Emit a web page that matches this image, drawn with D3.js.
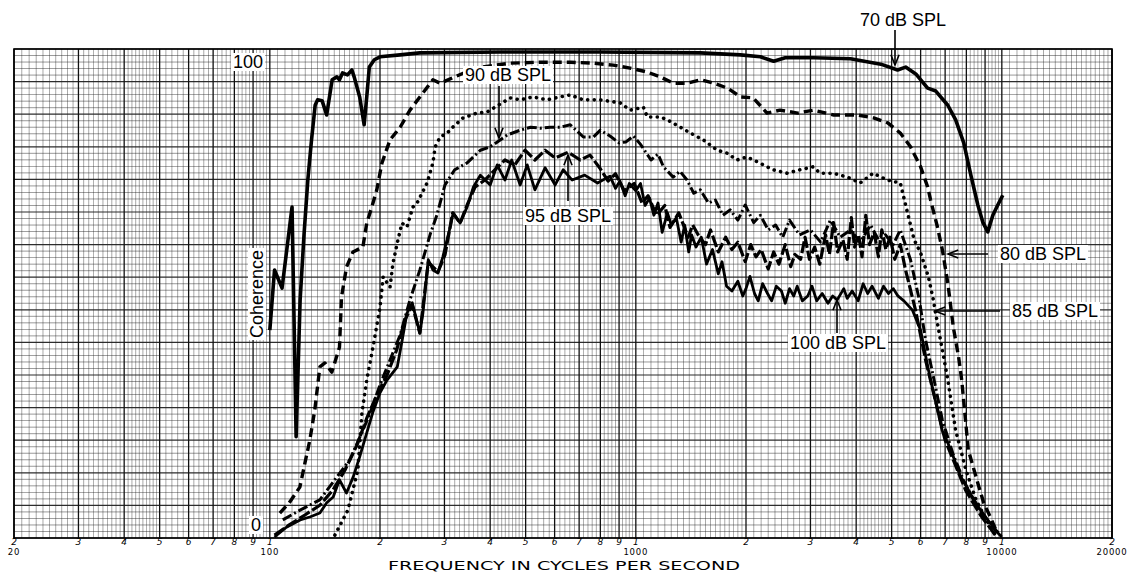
<!DOCTYPE html>
<html><head><meta charset="utf-8">
<script src="https://cdn.jsdelivr.net/npm/d3@7"></script>
<style>body{margin:0;background:#fff}svg{display:block}</style>
</head><body>
<svg id="chart" width="1134" height="573"></svg>
<script>
// Coherence (%) versus frequency (Hz) at six stimulus levels
const spl70 = [[100,42.5],[103,54.8],[108,51.1],[115,67.7],[118,20.7],[121,48.7],[124,62],[127,73.2],[130,81.4],[133,88.5],[135,89.6],[139,89.4],[143,86.5],[148,93.7],[152.5,94.3],[155,93.7],[158,95.1],[163,94.7],[167.6,95.7],[170,94.3],[176,90.2],[181,84.5],[184,90.2],[187,96.3],[193,97.8],[200,98.4],[227,98.8],[257,99.2],[426,99.4],[800,99.4],[1500,99.2],[1930,98.8],[2190,98.4],[2380,97.5],[2560,98.2],[3060,98.2],[3860,98],[4670,96.9],[5190,95.7],[5460,96.3],[5820,94.9],[6270,92],[6600,91.4],[7120,88.5],[7480,85.5],[7870,80.8],[8230,74.2],[8600,68.1],[8870,64.6],[9155,62.6],[9450,66],[9750,68.1],[10060,70.1]];

const spl80 = [[106.5,5.1],[113,7.2],[120.8,10.4],[124.7,15.3],[128.6,20],[132.7,26.2],[137,35],[141.4,35.8],[147.7,33.9],[155,39],[157,49.3],[162,55.4],[168.7,58.5],[179.6,59.5],[184,64.4],[190,67.7],[196,71.2],[202.5,76.7],[213,81.4],[227,84],[241.5,87.5],[257,90.2],[279,93.7],[292,93],[364,96.1],[454,97.1],[549,97.3],[663,97.3],[766,97.1],[867,96.7],[965,96.1],[1073,95.3],[1165,94.3],[1266,93],[1385,93],[1505,93.7],[1633,93],[1780,92],[1933,90.2],[2093,90],[2282,86.9],[2477,87.5],[2768,86.9],[3060,87.5],[3475,86.5],[4036,86.5],[4463,85.9],[4879,84.9],[5280,82.8],[5630,80],[6000,75.9],[6270,71.8],[6390,69.1],[6670,63.6],[6880,58.9],[7120,52.1],[7370,43.1],[7620,37],[7770,32.3],[8100,18],[8600,11.2],[8920,7.2],[9300,4.3],[9720,1]];

const spl85 = [[150.6,0.6],[163.4,5.7],[174,13.9],[178.5,25.6],[184,32.3],[191.3,39],[200,47.2],[204,53.4],[213,51.3],[217,56.2],[224,61],[229.7,64.4],[237,63.6],[246,67.7],[252.5,68.5],[269,72.6],[279,76.7],[283,80],[292,82],[305,82.8],[316,84],[337,85.9],[368,86.9],[392,87.1],[454,90],[483,89.6],[524,90.2],[572,89.6],[621,90.2],[662,90.6],[719,89.6],[800,89.6],[906,89],[965,87.5],[1049,88.1],[1075,86.1],[1167,86.1],[1220,85.5],[1324,84],[1410,82.8],[1530,81.4],[1670,79.3],[1775,78.7],[1890,77.3],[2010,77.9],[2180,76.7],[2370,75.3],[2590,74.6],[2810,75.3],[3050,75.9],[3190,74.6],[3470,74.6],[3780,73.8],[4100,72.6],[4450,74.6],[4860,73.2],[5280,72.6],[5500,67.1],[5760,61],[6000,58.3],[6300,53.4],[6500,48.7],[6700,43.1],[6880,38.4],[7120,32.3],[7480,22],[7980,13.9],[8500,7.8],[9070,3.7],[9600,0.6]];

const spl90 = [[108.5,3.7],[121,5.7],[137,7.8],[152.5,12.5],[165.5,16],[179.5,22],[188,25.6],[200,31.3],[213,36.4],[227,41.5],[241.5,48.7],[257,54.8],[274,62],[286,66],[301,72.2],[320,75.3],[346,76.7],[376,79.3],[400,80],[426,81.4],[445,82.4],[483,83.4],[516,84],[549,83.8],[583,84],[621,84],[662,84.5],[719,82],[766,82],[800,83.4],[850,82.2],[900,80.8],[940,81],[985,82.2],[1030,80.5],[1100,77.3],[1150,78.5],[1190,75.9],[1265,73.8],[1320,75],[1380,73.2],[1440,70.5],[1500,71.2],[1580,68.5],[1650,69.1],[1730,66],[1810,67.1],[1900,65],[1990,68.1],[2100,64.5],[2190,66],[2300,63],[2410,64],[2520,61.5],[2630,65],[2800,62],[3000,63],[3200,60.5],[3400,65],[3620,61.5],[3860,63],[4100,60.5],[4380,64],[4600,61],[4810,62],[5050,60],[5280,63],[5630,56.9],[5950,48.7],[6190,40.5],[6530,32.3],[6880,24.1],[7370,17],[7850,11.9],[8500,6.7],[9300,2.7],[9950,0.6]];

const spl95 = [[103,0.6],[113,2.7],[124.7,4.7],[137,6.7],[148.7,9.8],[160.5,13.9],[173,19],[184,24.5],[196,29.2],[209,33.3],[222,38.4],[234,44.6],[245,47.6],[257,41.9],[271,56.4],[288,54.4],[301,57.9],[316,66.5],[331,64.4],[346,68.1],[364,71.8],[387,73.2],[412,75.3],[439,77.3],[467,76.3],[498,79.3],[530,77.3],[565,79.3],[602,77.7],[653,78.9],[705,77.3],[750,78.3],[800,75.5],[840,73],[880,74.5],[930,71],[990,72.5],[1040,68.5],[1080,70],[1140,66],[1200,68],[1240,63.5],[1310,66.5],[1390,61.5],[1430,64],[1480,62],[1550,60],[1600,63],[1680,58.5],[1760,61.5],[1830,59],[1900,60.5],[1990,56.5],[2060,60],[2130,57.5],[2200,59],[2300,55],[2380,58.5],[2460,56],[2560,60],[2650,55.5],[2720,58],[2820,57],[2900,61.5],[2980,57],[3080,59.5],[3180,56],[3300,62],[3380,58],[3470,64.5],[3560,58.5],[3680,61],[3780,57],[3880,65.5],[3960,59.5],[4060,62],[4150,57.5],[4250,66],[4350,60],[4480,62.5],[4600,57.5],[4700,63],[4820,59],[4950,61.5],[5100,57],[5280,60],[5450,55],[5810,46.6],[6190,36.4],[6580,28.2],[7000,20],[7470,14.9],[7960,9.8],[8740,4.7],[9600,0.6]];

const spl100 = [[103,0.2],[111,2.2],[121,3.7],[128.6,4.3],[137,5.1],[143,7.2],[149,8.4],[155,11.9],[162,9.2],[169,12.5],[176,16.6],[184,21.5],[191,25.6],[200,29.7],[209,32.3],[223,35],[230,40.5],[237,46],[245,48.1],[257,41.9],[262,46],[271,56.9],[279,54.8],[288,54.2],[297,57.5],[311,63.6],[317,66.5],[331,64.4],[346,67.7],[360,71.8],[376,74.2],[400,72.2],[418,76.3],[439,73.2],[458,77.3],[483,72.2],[505,76.3],[530,71.2],[565,75.7],[602,72.2],[633,75.3],[670,73.2],[725,74.2],[786,72.6],[850,74],[880,71.5],[905,73],[935,70],[960,72.5],[1000,71],[1030,72.5],[1060,68],[1090,69.5],[1120,66],[1150,68.5],[1180,62.5],[1220,66.5],[1250,64],[1290,65.5],[1330,60.5],[1360,64],[1395,58.5],[1420,62],[1460,59.5],[1510,61.5],[1560,56],[1620,59],[1680,54],[1720,56.5],[1770,51.5],[1830,50.5],[1900,52.5],[1960,49.5],[2000,51],[2050,53.5],[2110,50],[2160,48.5],[2220,52],[2290,50],[2350,48.5],[2420,51.5],[2500,50.5],[2560,48],[2630,51],[2700,49.5],[2760,51.5],[2850,48.5],[2950,49.5],[3030,51.5],[3120,48.5],[3230,50],[3350,48],[3450,49.5],[3550,48.7],[3700,51],[3780,49],[3900,50.5],[4050,48.5],[4180,52],[4300,50],[4420,51.5],[4600,49],[4750,51.5],[4900,50],[5050,51],[5200,49.5],[5400,48.5],[5700,46.6],[6000,42.5],[6300,34.4],[6580,28.2],[6870,22],[7260,18],[7680,12.9],[8250,8.8],[8750,5.7],[9600,1.6],[10000,0.2]];

// Axis labelling
const digitTicks = [20,30,40,50,60,70,80,90,100,200,300,400,500,600,700,800,900,1000,2000,3000,4000,5000,6000,7000,8000,9000,10000,20000];
const decadeTicks = [20,100,1000,10000,20000];
const xTitle = "FREQUENCY IN CYCLES PER SECOND";
const yTitle = "Coherence";
const yTickLabels = [[0,"0"],[100,"100"]];

const svg = d3.select("#chart");
const x = d3.scaleLog().domain([20,20000]).range([14,1112]);
const y = d3.scaleLinear().domain([0,100]).range([538,49]);

// ---- semi-log graph paper ----
const paper = svg.append("g");
const vMinor = [], vMajor = [];
for (const dec of [10,100,1000,10000]) {
  for (let m = 1; m < 10; m += 0.05) {
    const mm = Math.round(m*100)/100;
    let step = mm < 2 ? 0.05 : (mm < 5 ? 0.1 : 0.2);
    if (Math.abs(mm/step - Math.round(mm/step)) > 1e-6) continue;
    const f = mm*dec;
    if (f < 20 || f > 20000) continue;
    if (Math.abs(mm - Math.round(mm)) < 1e-6) vMajor.push(f); else vMinor.push(f);
  }
}
vMajor.push(20000);
const rows = d3.range(0, 75.01, 1).map(i => i*100/75);

paper.selectAll("line.vmin").data(vMinor).join("line")
  .attr("x1", d=>x(d)).attr("x2", d=>x(d)).attr("y1", y(0)).attr("y2", y(100))
  .attr("stroke","#333").attr("stroke-width",0.7).attr("opacity",0.6);
paper.selectAll("line.hrow").data(rows).join("line")
  .attr("x1", x(20)).attr("x2", x(20000)).attr("y1", d=>y(d)).attr("y2", d=>y(d))
  .attr("stroke","#222").attr("stroke-width",(d,i)=> i%5===0 ? 1.2 : 0.7).attr("opacity",(d,i)=> i%5===0 ? 0.95 : 0.65);
paper.selectAll("line.vmaj").data(vMajor).join("line")
  .attr("x1", d=>x(d)).attr("x2", d=>x(d)).attr("y1", y(0)).attr("y2", y(100))
  .attr("stroke","#111").attr("stroke-width",1.3);
paper.append("rect").attr("x",x(20)).attr("y",y(100)).attr("width",x(20000)-x(20)).attr("height",y(0)-y(100))
  .attr("fill","none").attr("stroke","#000").attr("stroke-width",1.6);

// ---- curves ----
const line = d3.line().x(d=>x(d[0])).y(d=>y(d[1]));
const series = [
  {data: spl70, w: 3.6, dash: null},
  {data: spl80, w: 3.4, dash: "9 5"},
  {data: spl85, w: 3.6, dash: "0.1 6.5", cap: "round"},
  {data: spl90, w: 3.0, dash: "10 3 2 3"},
  {data: spl95, w: 3.2, dash: "12 3"},
  {data: spl100, w: 2.8, dash: null}
];
svg.append("g").selectAll("path").data(series).join("path")
  .attr("d", s=>line(s.data)).attr("fill","none").attr("stroke","#000")
  .attr("stroke-width", s=>s.w).attr("stroke-dasharray", s=>s.dash)
  .attr("stroke-linecap", s=>s.cap || "butt").attr("stroke-linejoin","round");

// ---- labels with white backing ----
const font = "Liberation Sans, Arial, sans-serif";
function boxed(txt, cx, cy, size, rotate) {
  const g = svg.append("g").attr("transform", `translate(${cx},${cy})` + (rotate ? ` rotate(${rotate})` : ""));
  const t = g.append("text").attr("text-anchor","middle").attr("dominant-baseline","central")
    .attr("font-family",font).attr("font-size",size).text(txt);
  const bb = t.node().getBBox();
  g.insert("rect","text").attr("x",bb.x-2).attr("y",bb.y+1).attr("width",bb.width+4).attr("height",bb.height-2).attr("fill","#fff");
}
yTickLabels.forEach(([v,t]) => boxed(t, t==="0" ? 256 : 248, v===0 ? 525 : 62, 18));
boxed(yTitle, 257, 294, 18, -90);
boxed("90 dB SPL", 508, 75, 18);
boxed("95 dB SPL", 568, 216, 18);
boxed("100 dB SPL", 838, 343, 18);
boxed("80 dB SPL", 1043, 254, 18);
boxed("85 dB SPL", 1055, 311, 18);
boxed("70 dB SPL", 903, 20, 18);

// arrows
const arrows = [[895,30,895,65],[499,86,499,138],[568,201,568,155],[837,333,837,300],[988,254,948,254],[1000,311,935,311]];
const ag = svg.append("g").attr("stroke","#000").attr("fill","none").attr("stroke-width",1.6);
arrows.forEach(([x1,y1,x2,y2]) => {
  ag.append("line").attr("x1",x1).attr("y1",y1).attr("x2",x2).attr("y2",y2);
  const a = Math.atan2(y2-y1, x2-x1), L = 11, sp = 0.38;
  ag.append("path").attr("d", `M${x2-L*Math.cos(a-sp)},${y2-L*Math.sin(a-sp)} L${x2},${y2} L${x2-L*Math.cos(a+sp)},${y2-L*Math.sin(a+sp)}`);
});

// ---- frequency axis labels ----
const ax = svg.append("g").attr("font-family","DejaVu Sans, sans-serif").attr("fill","#000");
ax.selectAll("text.dig").data(digitTicks).join("text")
  .attr("x", d=>x(d)).attr("y", 545).attr("text-anchor","middle")
  .attr("font-size",9).attr("font-style","italic")
  .text(d => String(d)[0]);
ax.selectAll("text.dec").data(decadeTicks).join("text")
  .attr("x", d=>x(d)).attr("y", 555).attr("text-anchor","middle")
  .attr("font-size",8.5).attr("letter-spacing",0.8)
  .text(d => d);
ax.append("text").attr("x",564).attr("y",569.5).attr("text-anchor","middle")
  .attr("font-size",13).attr("textLength",352).attr("lengthAdjust","spacingAndGlyphs")
  .text(xTitle);
</script>
</body></html>
